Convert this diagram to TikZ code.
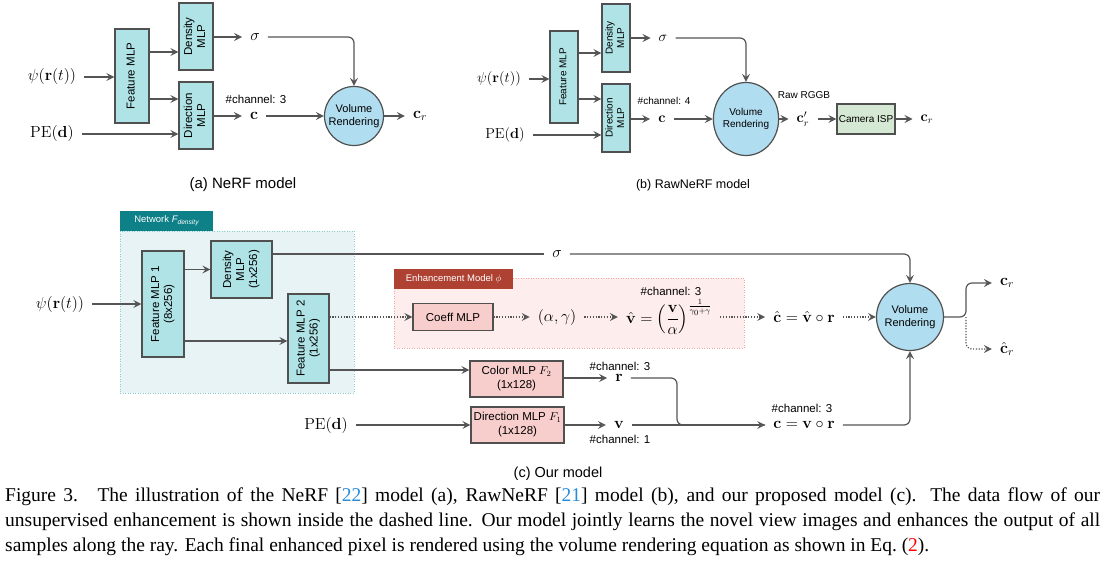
\RequirePackage{fix-cm}
\documentclass[tikz,border=0pt]{standalone}
\usepackage{amsmath}
\usepackage{amssymb}
\usepackage{graphicx}
\usepackage[no-math]{fontspec}
\usepackage{tikz}
\usetikzlibrary{positioning, arrows.meta, shapes.geometric}
\newfontfamily\arialFont{Liberation Sans}
\newfontfamily\timesFont{Liberation Serif}
\definecolor{lineColor}{RGB}{85,85,85}
\definecolor{borderColor}{RGB}{80,80,80}
\definecolor{mlpColor}{HTML}{B0E3E6}
\definecolor{renderColor}{HTML}{B1DDF0}
\definecolor{ispColor}{HTML}{D5E8D4}
\definecolor{enhanceColor}{HTML}{F8CECC}
\definecolor{networkTabColor}{HTML}{0E8088}
\definecolor{networkFillColor}{HTML}{E7F3F5}
\definecolor{networkLineColor}{HTML}{8CCDD2}
\definecolor{enhanceTabColor}{HTML}{AE4132}
\definecolor{enhanceFillColor}{HTML}{FDEDEC}
\definecolor{enhanceLineColor}{HTML}{F0A8A6}
\definecolor{citeColor}{RGB}{40,140,220}
\tikzstyle{diagram} = [x = 1pt, y = -1pt]
\tikzstyle{plainLine} = [color=lineColor, line width=1.2pt]
\tikzstyle{arrowLine} = [plainLine, -{Stealth[open, length=8pt, width=8pt, inset=3pt]}]
\tikzstyle{dottedArrow} = [arrowLine, dash pattern=on 1.2pt off 1.6pt]
\tikzstyle{mlpBox} = [draw=borderColor, fill=mlpColor, line width=1.2pt, inner sep=0pt, font=\arialFont\fontsize{11.5}{13}\selectfont]
\tikzstyle{mlpBoxSmall} = [mlpBox, font=\arialFont\fontsize{10}{11.5}\selectfont]
\tikzstyle{renderStyle} = [draw=borderColor, fill=renderColor, line width=1.2pt, inner sep=0pt, align=center, font=\arialFont\fontsize{11}{13}\selectfont]
\tikzstyle{enhanceBox} = [draw=borderColor, fill=enhanceColor, line width=1.2pt, inner sep=0pt, align=center, font=\arialFont\fontsize{11.5}{14}\selectfont]
\tikzstyle{ispBox} = [draw=borderColor, fill=ispColor, line width=1.2pt, inner sep=0pt, font=\arialFont\fontsize{10}{12}\selectfont]
\tikzstyle{mathLabel} = [inner xsep=8pt, inner ysep=1pt, font=\fontsize{16}{18}\selectfont]
\tikzstyle{mathLabelSmall} = [mathLabel, font=\fontsize{14.5}{16}\selectfont]
\tikzstyle{channelText} = [inner sep=0pt, font=\arialFont\fontsize{11.5}{13}\selectfont]
\tikzstyle{channelTextSmall} = [inner sep=0pt, font=\arialFont\fontsize{10}{12}\selectfont]
\tikzstyle{panelTitle} = [inner sep=0pt, font=\arialFont\fontsize{15}{17}\selectfont]
\tikzstyle{tabStyle} = [inner sep=0pt, text=white, font=\arialFont\fontsize{9.5}{11}\selectfont]
\newcommand{\verticalBox}[6][mlpBox]{\node [#1, minimum width=#4, minimum height=#5] (#2) at (#3) {\rotatebox{90}{\begin{tabular}{@{}c@{}}#6\end{tabular}}};}
\newcommand{\channelLabel}[3]{\node [channelText] (#1) at (#2) {\#channel: #3};}

\begin{document}
\begin{tikzpicture}[diagram]
  \useasboundingbox (0, 0) rectangle (1108, 564);

  \node [mathLabel] (psiA) at (52, 77) {$\psi(\mathbf{r}(t))$};
  \node [mathLabel] (peA) at (52, 134) {$\mathrm{PE}(\mathbf{d})$};
  \verticalBox{featA}{132, 76}{34pt}{94pt}{Feature MLP}
  \verticalBox{densA}{196, 36.5}{34pt}{67pt}{Density\\MLP}
  \verticalBox{dirA}{196, 115.5}{34pt}{67pt}{Direction\\MLP}
  \node [mathLabel] (sigmaA) at (255, 37) {$\sigma$};
  \node [mathLabel] (cA) at (254, 116) {$\mathbf{c}$};
  \channelLabel{chanA}{256, 99}{3}
  \node [renderStyle, circle, minimum size=59pt] (volA) at (354, 116) {Volume\\Rendering};
  \node [mathLabel] (crA) at (420, 116) {$\mathbf{c}_r$};
  \node [panelTitle] (capA) at (243, 185) {(a) NeRF model};
  \draw [arrowLine] (psiA) -- (psiA -| featA.west);
  \draw [arrowLine] (featA.east |- 0,52) -- (densA.west |- 0,52);
  \draw [arrowLine] (featA.east |- 0,99) -- (dirA.west |- 0,99);
  \draw [arrowLine] (peA) -- (peA -| dirA.west);
  \draw [arrowLine] (densA.east |- sigmaA) -- (sigmaA);
  \draw [arrowLine] (dirA.east |- cA) -- (cA);
  \draw [arrowLine, rounded corners=6pt] (sigmaA) -| (volA);
  \draw [arrowLine] (cA) -- (volA);
  \draw [arrowLine] (volA) -- (crA);

  \node [mathLabelSmall] (psiB) at (499, 79) {$\psi(\mathbf{r}(t))$};
  \node [mathLabelSmall] (peB) at (505, 135) {$\mathrm{PE}(\mathbf{d})$};
  \verticalBox[mlpBoxSmall]{featB}{564, 77}{28pt}{92pt}{Feature MLP}
  \verticalBox[mlpBoxSmall]{densB}{616, 38}{28pt}{68pt}{Density\\MLP}
  \verticalBox[mlpBoxSmall]{dirB}{616, 118}{28pt}{68pt}{Direction\\MLP}
  \node [mathLabelSmall] (sigmaB) at (663, 38) {$\sigma$};
  \node [mathLabelSmall] (cB) at (662, 119) {$\mathbf{c}$};
  \node [channelTextSmall] (chanB) at (664, 101) {\#channel: 4};
  \node [renderStyle, ellipse, minimum width=48pt, minimum height=73pt, font=\arialFont\fontsize{10}{12}\selectfont] (volB) at (746, 119) {Volume\\Rendering};
  \node [channelTextSmall] (rawB) at (804, 95) {Raw RGGB};
  \node [mathLabelSmall] (crpB) at (803, 119) {$\mathbf{c}_r'$};
  \node [ispBox, minimum width=58pt, minimum height=30pt] (ispB) at (866, 119) {Camera ISP};
  \node [mathLabelSmall] (crB) at (927, 119) {$\mathbf{c}_r$};
  \node [panelTitle, font=\arialFont\fontsize{12.5}{15}\selectfont] (capB) at (693, 185) {(b) RawNeRF model};
  \draw [arrowLine] (psiB) -- (psiB -| featB.west);
  \draw [arrowLine] (featB.east |- 0,53) -- (densB.west |- 0,53);
  \draw [arrowLine] (featB.east |- 0,99) -- (dirB.west |- 0,99);
  \draw [arrowLine] (peB) -- (peB -| dirB.west);
  \draw [arrowLine] (densB.east |- sigmaB) -- (sigmaB);
  \draw [arrowLine] (dirB.east |- cB) -- (cB);
  \draw [arrowLine, rounded corners=6pt] (sigmaB) -| (volB);
  \draw [arrowLine] (cB) -- (volB);
  \draw [arrowLine] (volB) -- (crpB);
  \draw [arrowLine] (crpB) -- (ispB);
  \draw [arrowLine] (ispB) -- (crB);

  \node [draw=networkLineColor, fill=networkFillColor, dash pattern=on 1pt off 1.5pt, line width=0.9pt, anchor=north west, minimum width=234pt, minimum height=162pt] (netRegion) at (120, 231) {};
  \node [tabStyle, fill=networkTabColor, anchor=south west, minimum width=93pt, minimum height=20pt] (netTab) at (netRegion.north west) {Network {\itshape F\textsubscript{density}}};
  \node [draw=enhanceLineColor, fill=enhanceFillColor, dash pattern=on 1pt off 1.5pt, line width=0.9pt, anchor=north west, minimum width=350pt, minimum height=70pt] (enhRegion) at (394, 278) {};
  \node [tabStyle, fill=enhanceTabColor, anchor=north west, minimum width=119pt, minimum height=20pt] (enhTab) at (394, 269) {Enhancement Model $\phi$};

  \node [mathLabel] (psiC) at (60, 304) {$\psi(\mathbf{r}(t))$};
  \verticalBox{feat1}{163, 304}{42pt}{106pt}{Feature MLP 1\\(8x256)}
  \verticalBox{densC}{241.5, 269.5}{61pt}{57pt}{Density\\MLP\\(1x256)}
  \verticalBox{feat2}{308.5, 338.5}{41pt}{89pt}{Feature MLP 2\\(1x256)}
  \node [mathLabel] (sigmaC) at (557, 254) {$\sigma$};
  \node [renderStyle, circle, minimum size=67pt] (volC) at (910, 317) {Volume\\Rendering};
  \node [enhanceBox, minimum width=80pt, minimum height=27pt] (coeff) at (453, 317) {Coeff MLP};
  \node [mathLabel] (alphaGamma) at (557, 317) {$(\alpha, \gamma)$};
  \node [mathLabel] (vHat) at (669, 317) {$\hat{\mathbf{v}} = \left(\dfrac{\mathbf{v}}{\alpha}\right)^{\frac{1}{\gamma_0+\gamma}}$};
  \channelLabel{chanV}{671, 291}{3}
  \node [mathLabel] (cHat) at (804, 317) {$\hat{\mathbf{c}} = \hat{\mathbf{v}} \circ \mathbf{r}$};
  \node [enhanceBox, minimum width=93pt, minimum height=36pt] (colorMLP) at (516.5, 379) {Color MLP $F_2$\\(1x128)};
  \node [enhanceBox, minimum width=93pt, minimum height=36pt] (dirMLP) at (517.5, 425) {Direction MLP $F_1$\\(1x128)};
  \node [mathLabel] (peC) at (326, 425) {$\mathrm{PE}(\mathbf{d})$};
  \node [mathLabel] (rC) at (619, 378) {$\mathbf{r}$};
  \node [mathLabel] (vC) at (619, 425) {$\mathbf{v}$};
  \channelLabel{chanR}{620, 366}{3}
  \channelLabel{chanVC}{620, 439}{1}
  \node [mathLabel] (cvr) at (804, 425) {$\mathbf{c} = \mathbf{v} \circ \mathbf{r}$};
  \channelLabel{chanC}{802, 408}{3}
  \node [mathLabel] (crC) at (1007, 283) {$\mathbf{c}_r$};
  \node [mathLabel] (chatR) at (1007, 349) {$\hat{\mathbf{c}}_r$};
  \node [panelTitle, font=\arialFont\fontsize{14.5}{17}\selectfont] (capC) at (558, 474) {(c) Our model};
  \coordinate (mergeC) at (677, 425);
  \coordinate (splitC) at (966, 317);
  \draw [arrowLine] (psiC) -- (psiC -| feat1.west);
  \draw [arrowLine] (feat1.east |- densC) -- (densC);
  \draw [arrowLine] (feat1.east |- 0,341) -- (feat2.west |- 0,341);
  \draw [plainLine] (densC.east |- sigmaC) -- (sigmaC);
  \draw [arrowLine, rounded corners=6pt] (sigmaC) -| (volC);
  \draw [dottedArrow] (feat2.east |- coeff) -- (coeff);
  \foreach \fromNode/\toNode in {coeff/alphaGamma, alphaGamma/vHat, vHat/cHat, cHat/volC} {
    \draw [dottedArrow] (\fromNode) -- (\toNode);
  }
  \draw [arrowLine] (feat2.east |- 0,370) -- (colorMLP.west |- 0,370);
  \draw [arrowLine] (peC) -- (peC -| dirMLP.west);
  \draw [arrowLine] (colorMLP.east |- rC) -- (rC);
  \draw [arrowLine] (dirMLP.east |- vC) -- (vC);
  \draw [plainLine, rounded corners=6pt] (rC) -| (mergeC) -- (cvr.west);
  \draw [arrowLine] (vC) -- (cvr);
  \draw [arrowLine, rounded corners=6pt] (cvr) -| (volC);
  \draw [arrowLine, rounded corners=6pt] (volC) -- (splitC) |- (crC);
  \draw [dottedArrow, rounded corners=6pt] (splitC) |- (chatR);

  \node [anchor=north west, inner sep=0pt, text width=1095pt, align=justify, font=\timesFont\fontsize{19.5}{25}\selectfont] (figCaption) at (5, 488) {Figure 3.\quad The illustration of the NeRF [{\color{citeColor}22}] model (a), RawNeRF [{\color{citeColor}21}] model (b), and our proposed model (c). The data flow of our\linebreak unsupervised enhancement is shown inside the dashed line. Our model jointly learns the novel view images and enhances the output of all\linebreak samples along the ray. Each final enhanced pixel is rendered using the volume rendering equation as shown in Eq.~({\color{red}2}).};
\end{tikzpicture}
\end{document}
